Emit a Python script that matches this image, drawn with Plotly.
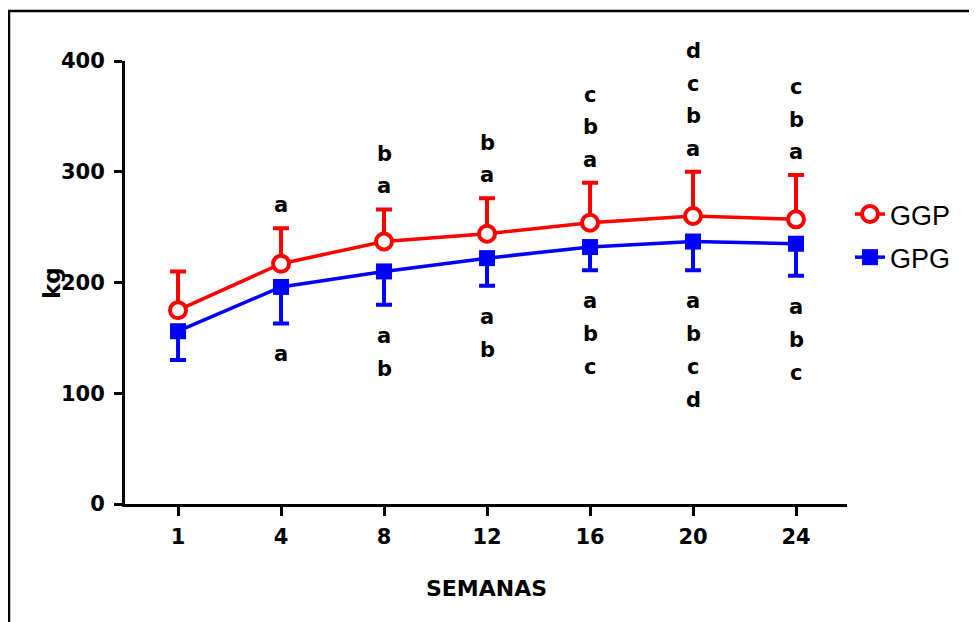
import plotly.graph_objects as go

weeks = ["1", "4", "8", "12", "16", "20", "24"]
ggp_mean = [175, 217, 237, 244, 254, 260, 257]
ggp_err = [35, 32, 29, 32, 36, 40, 40]
gpg_mean = [156, 196, 210, 222, 232, 237, 235]
gpg_err = [26, 33, 30, 25, 21, 26, 29]

letters_above = [[], ["a"], ["a", "b"], ["a", "b"], ["a", "b", "c"], ["a", "b", "c", "d"], ["a", "b", "c"]]
letters_below = [[], ["a"], ["a", "b"], ["a", "b"], ["a", "b", "c"], ["a", "b", "c", "d"], ["a", "b", "c"]]

RED = "#ff0000"
BLUE = "#0000ff"
FONT = "Liberation Sans, Arial, sans-serif"
BFONT = "DejaVu Sans, Liberation Sans, sans-serif"

xs = list(range(len(weeks)))

# page body has an 8px margin; compensate so the figure lands like the reference
OFF = 8
W, H = 977 - OFF, 622 - OFF
x0s, x1s, y0s, y1s = 125, 847, 61, 504   # plot area in screen pixels
ml, mr, mt, mb = x0s - OFF, W - (x1s - OFF), y0s - OFF, H - (y1s - OFF)
pw, ph = W - ml - mr, H - mt - mb


def px2x(sx):
    return (sx - OFF - ml) / pw


def px2y(sy):
    return (H - mb - (sy - OFF)) / ph


fig = go.Figure()
fig.add_trace(go.Scatter(
    x=xs, y=ggp_mean, name="GGP", mode="lines+markers", legendgroup="g1",
    line=dict(color=RED, width=3.5),
    marker=dict(symbol="circle", size=16, color="white", line=dict(color=RED, width=4)),
    error_y=dict(type="data", symmetric=False, array=ggp_err, arrayminus=[0] * len(xs),
                 color=RED, thickness=4, width=8),
))
fig.add_trace(go.Scatter(
    x=xs, y=gpg_mean, name="GPG", mode="lines+markers", legendgroup="g2",
    line=dict(color=BLUE, width=3.5),
    marker=dict(symbol="square", size=16, color=BLUE, line=dict(color=BLUE, width=0)),
    error_y=dict(type="data", symmetric=False, array=[0] * len(xs), arrayminus=gpg_err,
                 color=BLUE, thickness=4, width=8),
))

annotations = []
for i, labs in enumerate(letters_above):
    top = ggp_mean[i] + ggp_err[i]
    for k, t in enumerate(labs):
        annotations.append(dict(x=i, y=top, xref="x", yref="y", text=t, showarrow=False,
                                yshift=23 + 32.5 * k,
                                font=dict(family=BFONT, size=21, color="black", weight="bold")))
for i, labs in enumerate(letters_below):
    bot = gpg_mean[i] - gpg_err[i]
    for k, t in enumerate(labs):
        annotations.append(dict(x=i, y=bot, xref="x", yref="y", text=t, showarrow=False,
                                yshift=-(31 + 33 * k),
                                font=dict(family=BFONT, size=21, color="black", weight="bold")))

# axis titles
annotations.append(dict(x=px2x(486), y=px2y(588), xref="paper", yref="paper", text="SEMANAS",
                        showarrow=False, xanchor="center", yanchor="middle",
                        font=dict(family=BFONT, size=22, color="black", weight="bold")))
annotations.append(dict(x=px2x(52), y=px2y(283), xref="paper", yref="paper", text="kg", showarrow=False,
                        textangle=-90, xanchor="center", yanchor="middle",
                        font=dict(family=BFONT, size=23, color="black", weight="bold")))

fx = px2x(9)
fy = px2y(11)

fig.update_layout(
    width=W, height=H,
    margin=dict(l=ml, r=mr, t=mt, b=mb, pad=0),
    paper_bgcolor="white", plot_bgcolor="white",
    showlegend=True,
    legend=dict(x=px2x(850), y=px2y(190), xanchor="left", yanchor="top",
                font=dict(family=FONT, size=27, color="black"),
                tracegroupgap=5, traceorder="grouped", bgcolor="rgba(0,0,0,0)", borderwidth=0),
    xaxis=dict(range=[-0.515, 6.495], tickvals=xs, ticktext=weeks, showgrid=False, zeroline=False,
               showline=True, linecolor="black", linewidth=3, ticks="outside", ticklen=9, tickwidth=3,
               tickcolor="black", ticklabelstandoff=3,
               tickfont=dict(family=BFONT, size=21, color="black", weight="bold")),
    yaxis=dict(range=[0, 400], tickvals=[0, 100, 200, 300, 400], showgrid=False, zeroline=False,
               showline=True, linecolor="black", linewidth=3, ticks="outside", ticklen=8, tickwidth=3,
               tickcolor="black", ticklabelstandoff=5,
               tickfont=dict(family=BFONT, size=21, color="black", weight="bold")),
    annotations=annotations,
    shapes=[dict(type="path", xref="paper", yref="paper",
                 path=f"M {fx},-0.5 L {fx},{fy} L 1.5,{fy}",
                 line=dict(color="black", width=2.5))],
)

fig.write_html("out.html")
